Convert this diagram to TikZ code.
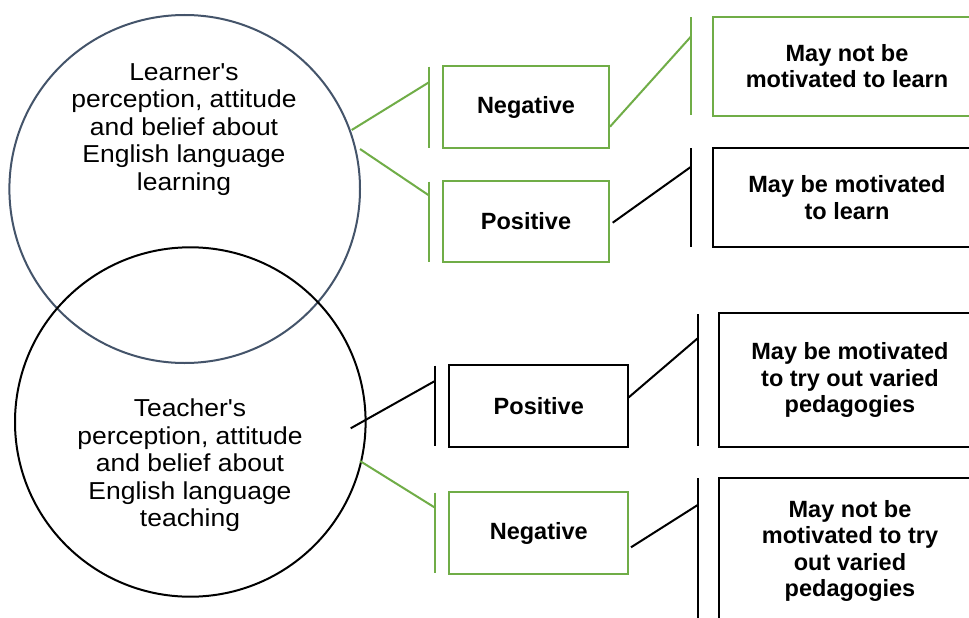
\documentclass[tikz,border=0pt]{standalone}
\usepackage{fontspec}
\setmainfont{Liberation Sans}
\newfontfamily\regfont[FakeStretch=1.08]{Liberation Sans}
\usetikzlibrary{shapes.geometric,calc}
\definecolor{lgreen}{HTML}{70AD47}
\definecolor{slate}{HTML}{44546A}
\begin{document}
\begin{tikzpicture}[x=1pt,y=-1pt,
  circ/.style={ellipse, draw, line width=2pt, inner sep=0pt, outer sep=0pt},
  regtext/.style={align=center, font=\regfont\fontsize{24.5}{27.4}\selectfont, inner sep=0pt},
  box/.style={draw, line width=2.2pt, rectangle, inner sep=0pt, outer sep=0pt, align=center,
    font=\bfseries\fontsize{23.5}{26.6}\selectfont},
  bar/.style={line width=2.2pt},
  conn/.style={line width=2pt}]
\clip (0,0) rectangle (969,618);
\fill[white] (0,0) rectangle (969,618);

% circles
\node[circ, draw=slate, minimum width=350.6pt, minimum height=348pt] (learner) at (184.7,189) {};
\node[circ, draw=black, minimum width=350.6pt, minimum height=349.4pt] (teacher) at (190.3,422) {};
\node[regtext] (ltext) at (184,129.5) {Learner's\\perception, attitude\\and belief about\\English language\\learning};
\node[regtext] (ttext) at (190,465.4) {Teacher's\\perception, attitude\\and belief about\\English language\\teaching};

% boxes
\node[box, draw=lgreen, minimum width=166pt, minimum height=82pt] (neg1) at (526,107) {Negative};
\node[box, draw=lgreen, minimum width=166pt, minimum height=81pt] (pos1) at (526,221.5) {Positive};
\node[box, minimum width=179pt, minimum height=81.4pt] (tpos) at (538.8,406) {Positive};
\node[box, draw=lgreen, minimum width=179pt, minimum height=82pt] (tneg) at (538.8,533.3) {Negative};
\node[box, draw=lgreen, minimum width=268pt, minimum height=99pt] (out1) at (847,66.2) {May not be\\motivated to learn};
\node[box, minimum width=268pt, minimum height=99.6pt] (out2) at (847,197.5) {May be motivated\\to learn};
\node[box, minimum width=262pt, minimum height=133.4pt] (out3) at (850,380) {May be motivated\\to try out varied\\pedagogies};
\node[box, minimum width=262pt, minimum height=146pt] (out4) at (850,551) {May not be\\motivated to try\\out varied\\pedagogies};

% bars
\coordinate (b1t) at (429.3,66.7);  \coordinate (b1b) at (429.3,147.7);
\coordinate (b2t) at (429.3,181.7); \coordinate (b2b) at (429.3,262);
\coordinate (b3t) at (690.7,17.3);  \coordinate (b3b) at (690.7,115);
\coordinate (b4t) at (690.7,148.3); \coordinate (b4b) at (690.7,246.7);
\coordinate (b5t) at (435,365.7);   \coordinate (b5b) at (435,446);
\coordinate (b6t) at (435,492.7);   \coordinate (b6b) at (435,573.3);
\coordinate (b7t) at (697.7,314);   \coordinate (b7b) at (697.7,446);
\coordinate (b8t) at (697.7,478.3); \coordinate (b8b) at (697.7,630);
\draw[bar, lgreen] (b1t) -- (b1b);
\draw[bar, lgreen] (b2t) -- (b2b);
\draw[bar, lgreen] (b3t) -- (b3b);
\draw[bar] (b4t) -- (b4b);
\draw[bar] (b5t) -- (b5b);
\draw[bar, lgreen] (b6t) -- (b6b);
\draw[bar] (b7t) -- (b7b);
\draw[bar] (b8t) -- (b8b);

% connector start points on the circles
\coordinate (ls1) at (351.7,130);
\coordinate (ls2) at (360,149);
\coordinate (ts1) at (350.7,428.3);
\coordinate (ts2) at (360,461);

% connectors
\draw[conn, lgreen] (ls1) -- ($(b1t)!0.19!(b1b)$);
\draw[conn, lgreen] (ls2) -- ($(b2t)!0.174!(b2b)$);
\draw[conn, lgreen] ($(neg1.east)+(1,19.7)$) -- ($(b3t)!0.2!(b3b)$);
\draw[conn] ($(pos1.east)+(3.7,1.2)$) -- ($(b4t)!0.19!(b4b)$);
\draw[conn] (ts1) -- ($(b5t)!0.19!(b5b)$);
\draw[conn, lgreen] (ts2) -- ($(b6t)!0.186!(b6b)$);
\draw[conn] ($(tpos.east)+(0,-8.3)$) -- ($(b7t)!0.184!(b7b)$);
\draw[conn] ($(tneg.east)+(2.7,14)$) -- ($(b8t)!0.176!(b8b)$);
\end{tikzpicture}
\end{document}
